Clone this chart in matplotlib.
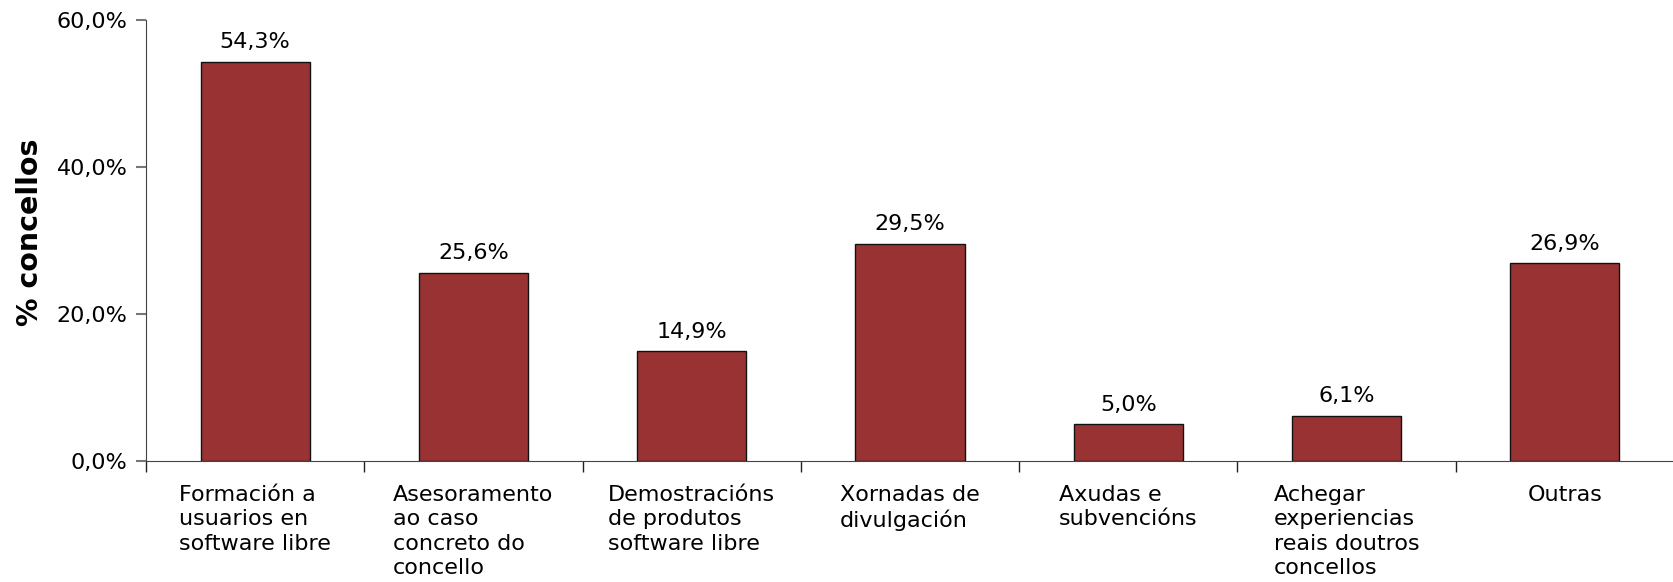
import matplotlib
matplotlib.use('Agg')
import matplotlib.pyplot as plt
from matplotlib.ticker import FuncFormatter

# Data
categories = [
    'Formación a\nusuarios en\nsoftware libre',
    'Asesoramento\nao caso\nconcreto do\nconcello',
    'Demostracións\nde produtos\nsoftware libre',
    'Xornadas de\ndivulgación',
    'Axudas e\nsubvencións',
    'Achegar\nexperiencias\nreais doutros\nconcellos',
    'Outras',
]
values = [54.3, 25.6, 14.9, 29.5, 5.0, 6.1, 26.9]
yticks = [0, 20, 40, 60]

plt.rcParams['font.family'] = 'DejaVu Sans'

fig = plt.figure(figsize=(16.74, 5.82), dpi=100)
ax = fig.add_axes([0.0872, 0.2079, 0.9128, 0.7577])

x = list(range(len(values)))
bars = ax.bar(x, values, width=0.5, color='#993333', edgecolor='#111111', linewidth=1)

# value labels
for xi, v in zip(x, values):
    ax.annotate(f'{v:.1f}%'.replace('.', ','), (xi, v), xytext=(0, 7),
                textcoords='offset points', ha='center', va='bottom', fontsize=16)

ax.set_xlim(-0.5, len(values) - 0.5)
ax.set_ylim(0, 60)
ax.set_yticks(yticks)
ax.yaxis.set_major_formatter(FuncFormatter(lambda v, p: f'{v:.1f}%'.replace('.', ',')))

# category ticks sit between the bars, labels centred under each bar
ax.set_xticks([i - 0.5 for i in range(1, len(values))] + [-0.5], minor=False)
ax.set_xticklabels([])
ax.set_xticks(x, minor=True)
ax.set_xticklabels(categories, minor=True, fontsize=16, ha='center',
                   multialignment='left', linespacing=1.28)
ax.tick_params(axis='x', which='minor', length=0, pad=17)
ax.tick_params(axis='x', which='major', length=8, width=1, color='#222222')
ax.tick_params(axis='y', length=7.2, width=1.5, color='#777777', pad=6, labelsize=16)

for s in ['top', 'right']:
    ax.spines[s].set_visible(False)
ax.spines['left'].set_color('#444444')
ax.spines['bottom'].set_color('#444444')

ax.set_ylabel('% concellos', fontsize=20.5, fontweight='bold')
ax.yaxis.set_label_coords(-0.0762, 0.519)
ax.yaxis.label.set_verticalalignment('center')

plt.savefig('out.png', dpi=100)
